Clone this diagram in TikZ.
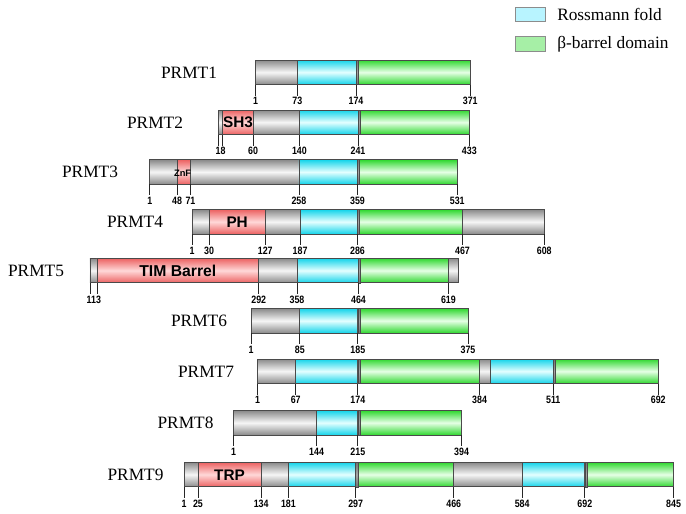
\documentclass[tikz,border=0pt]{standalone}
\usepackage{fontspec}
\setmainfont{Liberation Serif}
\newfontfamily\numfont[FakeStretch=0.83]{Liberation Sans}
\newfontfamily\domfont{Liberation Sans}
\definecolor{grayE}{HTML}{8A8A8A}
\definecolor{grayM}{HTML}{F6F6F6}
\definecolor{cyanE}{HTML}{14D4EA}
\definecolor{cyanM}{HTML}{E4FFFF}
\definecolor{greenE}{HTML}{30D830}
\definecolor{greenM}{HTML}{E6FFE6}
\definecolor{redE}{HTML}{EC6262}
\definecolor{redM}{HTML}{FFD8D8}
\definecolor{outl}{HTML}{4A4A4A}
\definecolor{legC}{HTML}{B8F4FF}
\definecolor{legG}{HTML}{A6EFA6}
\newcommand\setrow[2]{\def\xo{#1}\def\yt{#2}}
\newcommand\segm[3]{\path[#3] ({\xo+0.58*#1},\yt) rectangle ({\xo+0.58*#2},{\yt+24.5});}
\newcommand\sepst[1]{\path[sepbar] ({\xo+0.58*#1},\yt) rectangle ({\xo+0.58*#1+2.2},{\yt+24.5});}
\newcommand\tck[1]{\draw[tickln] ({\xo+0.58*#1},{\yt+24.5}) -- ({\xo+0.58*#1},{\yt+35.5});}
\newcommand\numl[3]{\node[numlab] (#1) at ({\xo+0.58*#2},{\yt+41.2}) {#3};}
\newcommand\tickl[2]{\tck{#2}\numl{#1-#2}{#2}{#2}}
\newcommand\doml[5]{\node[domlab,font=\domfont\bfseries\fontsize{#4}{#4}\selectfont] (#1) at ({\xo+0.58*(#2+#3)/2},{\yt+12.7}) {#5};}
\tikzset{
  seg/.style={draw=outl, line width=0.6pt},
  gseg/.style={seg, top color=grayE, bottom color=grayE, middle color=grayM},
  cseg/.style={seg, top color=cyanE, bottom color=cyanE, middle color=cyanM},
  eseg/.style={seg, top color=greenE, bottom color=greenE, middle color=greenM},
  rseg/.style={seg, top color=redE, bottom color=redE, middle color=redM},
  sepbar/.style={draw=outl, line width=0.4pt, top color=black!55, bottom color=black!55, middle color=black!35},
  tickln/.style={draw=black!85, line width=0.55pt},
  numlab/.style={inner sep=0pt, font=\numfont\bfseries\fontsize{8}{8}\selectfont},
  domlab/.style={inner sep=0pt, text=black},
  protlab/.style={inner sep=0pt, font=\fontsize{13}{14}\selectfont},
  legbox/.style={draw=black!45, line width=0.6pt},
  legtxt/.style={inner sep=0pt, anchor=west, font=\fontsize{13}{14}\selectfont}
}
\begin{document}
\begin{tikzpicture}[x=0.75pt,y=-0.75pt]
\useasboundingbox (0,0) rectangle (686,514);
\fill[white] (0,0) rectangle (686,514);
% legend
\draw[legbox, fill=legC] (515,7.3) rectangle (545.7,21.7);
\node[legtxt] (lg1) at (557,14.3) {Rossmann fold};
\draw[legbox, fill=legG] (515,36.7) rectangle (545.7,51.7);
\node[legtxt] (lg2) at (557,43.8) {β-barrel domain};
% PRMT1
\setrow{255.08}{60}
\node[protlab] (p1) at (189,72.5) {PRMT1};
\segm{1}{73}{gseg}\segm{73}{174}{cseg}\segm{174}{371}{eseg}\sepst{174}
\tickl{a}{1}\tickl{a}{73}\tickl{a}{174}\tickl{a}{371}
% PRMT2
\setrow{218.22}{110}
\node[protlab] (p2) at (155,122.5) {PRMT2};
\segm{1}{8}{gseg}\segm{8}{60}{rseg}\segm{60}{140}{gseg}\segm{140}{241}{cseg}\segm{241}{433}{eseg}\sepst{241}
\doml{sh3}{8}{60}{11.5}{SH3}
\tck{1}\tck{8}\node[numlab] (b-18) at (220.6,151.2) {18};
\tickl{b}{60}\tickl{b}{140}\tickl{b}{241}\tickl{b}{433}
% PRMT3
\setrow{149.28}{159.7}
\node[protlab] (p3) at (90,172) {PRMT3};
\segm{1}{48}{gseg}\segm{48}{71}{rseg}\segm{71}{258}{gseg}\segm{258}{359}{cseg}\segm{359}{531}{eseg}\sepst{359}
\node[domlab,font=\domfont\bfseries\fontsize{7}{7}\selectfont] (znf) at (182.6,173.5) {ZnF};
\tickl{c}{1}\tickl{c}{48}\tickl{c}{71}\tickl{c}{258}\tickl{c}{359}\tickl{c}{531}
% PRMT4
\setrow{191.62}{209.5}
\node[protlab] (p4) at (135,222) {PRMT4};
\segm{1}{30}{gseg}\segm{30}{127}{rseg}\segm{127}{187}{gseg}\segm{187}{286}{cseg}\segm{286}{467}{eseg}\segm{467}{608}{gseg}\sepst{286}
\doml{ph}{30}{127}{11.5}{PH}
\tickl{d}{1}\tickl{d}{30}\tickl{d}{127}\tickl{d}{187}\tickl{d}{286}\tickl{d}{467}\tickl{d}{608}
% PRMT5
\setrow{89.38}{258.3}
\node[protlab] (p5) at (36,270.8) {PRMT5};
\segm{1}{13}{gseg}\segm{13}{292}{rseg}\segm{292}{358}{gseg}\segm{358}{464}{cseg}\segm{464}{619}{eseg}\segm{619}{637}{gseg}\sepst{464}
\doml{tim}{13}{292}{11.8}{TIM Barrel}
\tck{1}\tck{13}\node[numlab] (e-113) at (93.8,299.5) {113};
\tickl{e}{292}\tickl{e}{358}\tickl{e}{464}\tickl{e}{619}
% PRMT6
\setrow{250.5}{308.5}
\node[protlab] (p6) at (199,321) {PRMT6};
\segm{1}{85}{gseg}\segm{85}{185}{cseg}\segm{185}{375}{eseg}\sepst{185}
\tickl{f}{1}\tickl{f}{85}\tickl{f}{185}\tickl{f}{375}
% PRMT7
\setrow{256.88}{359}
\node[protlab] (p7) at (206,371.5) {PRMT7};
\segm{1}{67}{gseg}\segm{67}{174}{cseg}\segm{174}{384}{eseg}\segm{384}{403}{gseg}\segm{403}{511}{cseg}\segm{511}{692}{eseg}\sepst{174}\sepst{511}
\tickl{g}{1}\tickl{g}{67}\tickl{g}{174}\tickl{g}{384}\tickl{g}{511}\tickl{g}{692}
% PRMT8
\setrow{233.1}{410.5}
\node[protlab] (p8) at (185.5,423) {PRMT8};
\segm{1}{144}{gseg}\segm{144}{215}{cseg}\segm{215}{394}{eseg}\sepst{215}
\tickl{h}{1}\tickl{h}{144}\tickl{h}{215}\tickl{h}{394}
% PRMT9
\setrow{183.44}{462.3}
\node[protlab] (p9) at (135.5,474.8) {PRMT9};
\segm{1}{25}{gseg}\segm{25}{134}{rseg}\segm{134}{181}{gseg}\segm{181}{297}{cseg}\segm{297}{466}{eseg}\segm{466}{584}{gseg}\segm{584}{692}{cseg}\segm{692}{845}{eseg}\sepst{297}\sepst{692}
\doml{trp}{25}{134}{11.5}{TRP}
\tickl{i}{1}\tickl{i}{25}\tickl{i}{134}\tickl{i}{181}\tickl{i}{297}\tickl{i}{466}\tickl{i}{584}\tickl{i}{692}\tickl{i}{845}
\end{tikzpicture}
\end{document}
